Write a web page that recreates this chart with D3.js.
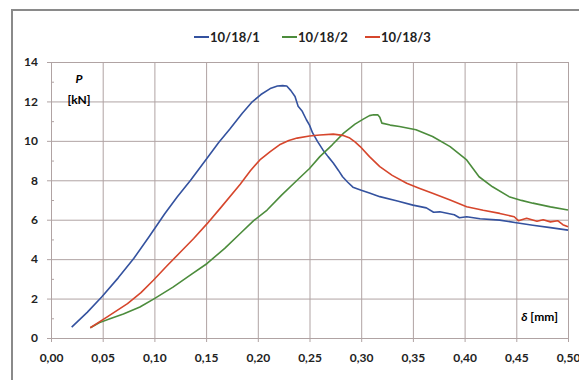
<!DOCTYPE html>
<html lang="en">
<head>
<meta charset="UTF-8">
<title>P–δ</title>
<style>
* { margin: 0; padding: 0; box-sizing: border-box; }
body { background: #fff; width: 579px; height: 380px; overflow: hidden; font-family: Lato, "Open Sans", sans-serif; }
svg { display: block; }
.tick text { font-size: 12px; font-weight: 700; fill: #222; font-family: Lato, "Open Sans", sans-serif; }
.legend text { font-size: 13px; font-weight: 700; fill: #222; }
</style>
</head>
<body>
<div id="chart"></div>
<script src="https://cdn.jsdelivr.net/npm/d3@7/dist/d3.min.js"></script>
<script>
// series: [delta mm, P kN]
var series1 = [[0.020,0.55],[0.035,1.3],[0.049,2.08],[0.065,3.05],[0.080,4.03],[0.095,5.15],[0.110,6.3],[0.122,7.15],[0.135,8.0],[0.150,9.05],[0.162,9.9],[0.173,10.6],[0.185,11.4],[0.194,11.95],[0.203,12.35],[0.212,12.65],[0.219,12.78],[0.224,12.8],[0.228,12.78],[0.232,12.55],[0.236,12.25],[0.239,11.75],[0.243,11.5],[0.247,11.07],[0.250,10.8],[0.253,10.4],[0.258,9.95],[0.263,9.54],[0.268,9.2],[0.273,8.88],[0.278,8.5],[0.282,8.18],[0.287,7.9],[0.292,7.65],[0.300,7.5],[0.308,7.35],[0.318,7.17],[0.335,6.95],[0.350,6.74],[0.363,6.6],[0.370,6.38],[0.376,6.4],[0.390,6.25],[0.395,6.1],[0.402,6.15],[0.415,6.05],[0.434,5.98],[0.450,5.85],[0.466,5.72],[0.483,5.6],[0.500,5.47]];
var series2 = [[0.038,0.52],[0.047,0.78],[0.057,0.98],[0.070,1.22],[0.086,1.57],[0.100,2.0],[0.118,2.58],[0.135,3.2],[0.151,3.78],[0.168,4.55],[0.183,5.3],[0.196,5.95],[0.209,6.49],[0.223,7.25],[0.238,8.0],[0.250,8.6],[0.260,9.2],[0.272,9.8],[0.283,10.39],[0.294,10.85],[0.302,11.1],[0.308,11.28],[0.312,11.32],[0.316,11.32],[0.318,11.2],[0.320,10.9],[0.328,10.8],[0.337,10.73],[0.353,10.56],[0.369,10.22],[0.386,9.71],[0.402,9.03],[0.414,8.18],[0.427,7.67],[0.443,7.17],[0.455,6.98],[0.466,6.84],[0.483,6.65],[0.500,6.49]];
var series3 = [[0.038,0.52],[0.054,1.06],[0.074,1.74],[0.087,2.3],[0.099,2.93],[0.112,3.65],[0.125,4.35],[0.138,5.05],[0.151,5.8],[0.164,6.6],[0.183,7.8],[0.193,8.5],[0.202,9.03],[0.212,9.45],[0.221,9.8],[0.230,10.02],[0.238,10.14],[0.250,10.25],[0.260,10.3],[0.273,10.34],[0.282,10.28],[0.289,10.14],[0.294,9.95],[0.299,9.71],[0.308,9.2],[0.318,8.69],[0.330,8.25],[0.344,7.85],[0.356,7.6],[0.369,7.34],[0.386,7.0],[0.402,6.66],[0.418,6.48],[0.434,6.32],[0.448,6.15],[0.452,5.95],[0.460,6.07],[0.470,5.92],[0.476,6.0],[0.483,5.89],[0.490,5.95],[0.495,5.75],[0.500,5.64]];
var seriesNames = ["10/18/1", "10/18/2", "10/18/3"];
var seriesColors = ["#34529f", "#4c8c3c", "#d6462c"];
var xTicks = [0, 0.05, 0.10, 0.15, 0.20, 0.25, 0.30, 0.35, 0.40, 0.45, 0.50];
var yTicks = [0, 2, 4, 6, 8, 10, 12, 14];
var yMinorTicks = [1, 3, 5, 7, 9, 11, 13];

var W = 579, H = 380;
var gridColor = "#b0a3a3";
var svg = d3.select("#chart").append("svg").attr("width", W).attr("height", H);

// outer chart frame (cropped on right and bottom)
svg.append("path")
	.attr("d", "M12," + (H + 5) + "V10H" + (W + 5))
	.attr("fill", "none")
	.attr("stroke", "#8a8a8a")
	.attr("stroke-width", 2);

var x = d3.scaleLinear().domain([0, 0.5]).range([51, 568]);
var y = d3.scaleLinear().domain([0, 14]).range([338, 62]);
var plotW = x(0.5) - x(0), plotH = y(0) - y(14);

var fmtX = function(d) { return d3.format(".2f")(d).replace(".", ","); };

// gridlines drawn as axis ticks, with a short tick outside the plot
svg.append("g")
	.attr("class", "gridx")
	.attr("transform", "translate(0," + (y(0) + 4) + ")")
	.call(d3.axisBottom(x).tickValues(xTicks).tickFormat("").tickSizeInner(-(plotH + 4)).tickSizeOuter(0));
svg.append("g")
	.attr("class", "gridy")
	.attr("transform", "translate(" + (x(0) - 4) + ",0)")
	.call(d3.axisLeft(y).tickValues(yTicks).tickFormat("").tickSizeInner(-(plotW + 4)).tickSizeOuter(0));
svg.append("g")
	.attr("class", "minor")
	.attr("transform", "translate(" + x(0) + ",0)")
	.call(d3.axisRight(y).tickValues(yMinorTicks).tickFormat("").tickSize(3));
svg.selectAll(".gridx .domain, .gridy .domain, .minor .domain").remove();
svg.selectAll(".gridx line, .gridy line, .minor line")
	.attr("stroke", gridColor)
	.attr("stroke-width", 1);

// axes (labels only)
svg.append("g")
	.attr("transform", "translate(0," + (y(0) + 7) + ")")
	.call(d3.axisBottom(x).tickValues(xTicks).tickFormat(fmtX).tickSize(0).tickPadding(8))
	.select(".domain").remove();
svg.append("g")
	.attr("transform", "translate(" + (x(0) - 7) + ",0)")
	.call(d3.axisLeft(y).tickValues(yTicks).tickSize(0).tickPadding(6))
	.select(".domain").remove();

// lines
var line = d3.line().x(function(d) { return x(d[0]); }).y(function(d) { return y(d[1]); });
[series1, series2, series3].forEach(function(s, i) {
	svg.append("path")
		.datum(s)
		.attr("d", line)
		.attr("fill", "none")
		.attr("stroke", seriesColors[i])
		.attr("stroke-width", 1.6)
		.attr("stroke-linejoin", "round");
});

// axis titles
svg.append("text").attr("x", 79).attr("y", 83).attr("text-anchor", "middle")
	.style("font-size", "12px").style("font-weight", 700).style("font-style", "italic").text("P");
svg.append("text").attr("x", 79).attr("y", 104).attr("text-anchor", "middle")
	.style("font-size", "12px").style("font-weight", 700).text("[kN]");
var dl = svg.append("text").attr("x", 558).attr("y", 321).attr("text-anchor", "end")
	.style("font-size", "12px").style("font-weight", 700);
dl.append("tspan").style("font-style", "italic").text("δ");
dl.append("tspan").text(" [mm]");

// legend
var legendX = [194, 282, 365];
var legend = svg.append("g").attr("class", "legend");
seriesNames.forEach(function(name, i) {
	var g = legend.append("g").attr("transform", "translate(" + legendX[i] + ",37)");
	g.append("line").attr("x1", 0).attr("x2", 15).attr("y1", 0).attr("y2", 0)
		.attr("stroke", seriesColors[i]).attr("stroke-width", 2);
	g.append("text").attr("x", 16).attr("y", 4.5).text(name);
});
</script>
</body>
</html>
